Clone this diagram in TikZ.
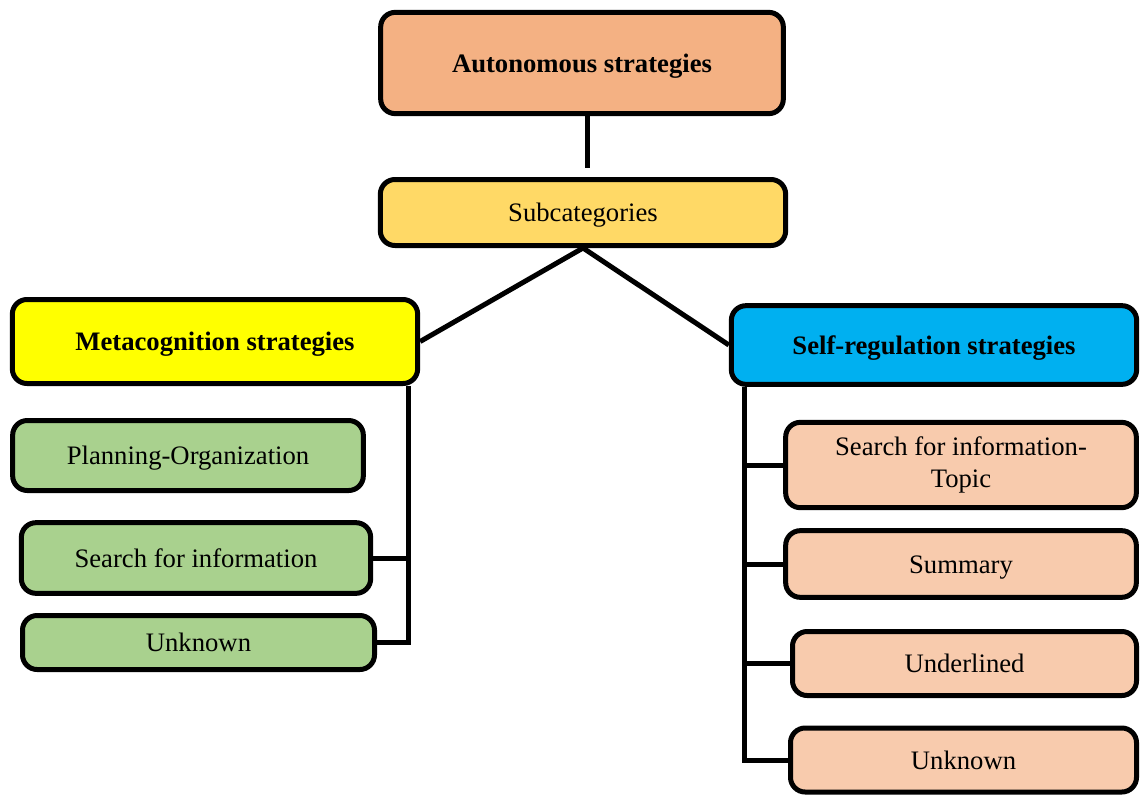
\documentclass[tikz,border=0pt]{standalone}
\usepackage{fontspec}
\setmainfont{Liberation Serif}
\usetikzlibrary{positioning}

\definecolor{autofill}{HTML}{F4B183}
\definecolor{subfill}{HTML}{FFD966}
\definecolor{metafill}{HTML}{FFFF00}
\definecolor{selffill}{HTML}{00B0F0}
\definecolor{greenfill}{HTML}{A9D18E}
\definecolor{peachfill}{HTML}{F8CBAD}

\tikzset{
  box/.style={draw, line width=3.75pt, rounded corners=11pt, align=center, inner sep=0pt,
    text height=14pt, text depth=0pt, font=\fontsize{20}{24}\selectfont},
  link/.style={line width=3.75pt}
}

\begin{document}
\begin{tikzpicture}[x=0.75pt,y=-0.75pt]
\useasboundingbox (0,0) rectangle (1141,796);
% top of the tree
\node[box,fill=autofill,minimum width=302pt,minimum height=76pt,font=\fontsize{20}{24}\selectfont\bfseries] (auto) at (582,63) {Autonomous strategies};
\node[box,fill=subfill,minimum width=304pt,minimum height=49.5pt] (sub) at (583,212.5) {Subcategories};
\coordinate (subtop) at (587,168);
\draw[link] (auto.south -| subtop) -- (subtop);
% the two branches
\node[box,fill=metafill,minimum width=304pt,minimum height=63pt,font=\fontsize{20}{24}\selectfont\bfseries] (meta) at (215,341.5) {Metacognition strategies};
\node[box,fill=selffill,minimum width=304pt,minimum height=59pt,font=\fontsize{20}{24}\selectfont\bfseries] (self) at (934,345) {Self-regulation strategies};
\draw[link] (meta.east) -- (sub.south) -- (self.west);
% metacognition items
\node[box,fill=greenfill,minimum width=263pt,minimum height=52.5pt] (plan) at (188,455.5) {Planning-Organization};
\node[box,fill=greenfill,minimum width=262pt,minimum height=53pt] (search) at (196,558) {Search for information};
\node[box,fill=greenfill,minimum width=264pt,minimum height=40.5pt] (unkL) at (198.5,642.5) {Unknown};
\coordinate (lt) at (408,386);
\draw[link] (lt) |- (unkL.east);
\draw[link] (search.east) -- (search.east -| lt);
% self-regulation items
\node[box,fill=peachfill,minimum width=263pt,minimum height=64pt,text height=34pt] (topic) at (961,465) {Search for information-\\Topic};
\node[box,fill=peachfill,minimum width=263pt,minimum height=50pt] (summary) at (961,564) {Summary};
\node[box,fill=peachfill,minimum width=258pt,minimum height=48pt] (under) at (964.5,663.5) {Underlined};
\node[box,fill=peachfill,minimum width=259.5pt,minimum height=48pt] (unkR) at (963.5,760) {Unknown};
\coordinate (rt) at (744,387);
\draw[link] (rt) |- (unkR.west);
\foreach \n in {topic,summary,under}{
  \draw[link] (\n.west) -- (\n.west -| rt);
};
\end{tikzpicture}
\end{document}
